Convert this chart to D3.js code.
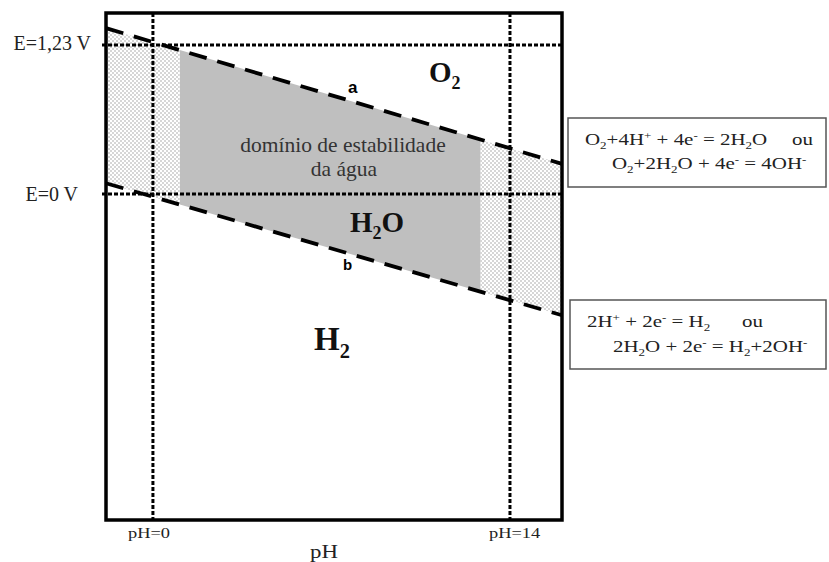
<!DOCTYPE html>
<html>
<head>
<meta charset="utf-8">
<script src="https://cdn.jsdelivr.net/npm/d3@7"></script>
<style>
  body { margin: 0; background: #fff; }
  svg text, svg tspan { font-family: "Liberation Serif", "Times New Roman", serif; }
</style>
</head>
<body>
<div id="chart"></div>
<script>
// pH / potential
const phRange = [-1.84, 16.04];      // pH at the frame edges
const eRange = [-2.69, 1.495];       // E (V) at the frame edges
const refPH = [0, 14];
const refPHLabels = ["pH=0", "pH=14"];
const refE = [1.23, 0];
const refELabels = ["E=1,23 V", "E=0 V"];
const lineA = [[-1.84, 1.37], [16.04, 0.25]];   // O2 / H2O
const lineB = [[-1.84, 0.09], [16.04, -1.0]];   // H2O / H2
const stablePH = [1.05, 12.85];                 // grey part of the band

// reaction boxes: [text, "n" | "sub" | "sup"]
const eqA1 = [["O","n"],["2","sub"],["+4H","n"],["+","sup"],[" + 4e","n"],["-","sup"],[" = 2H","n"],["2","sub"],["O","n"]];
const eqA2 = [["O","n"],["2","sub"],["+2H","n"],["2","sub"],["O + 4e","n"],["-","sup"],[" = 4OH","n"],["-","sup"]];
const eqB1 = [["2H","n"],["+","sup"],[" + 2e","n"],["-","sup"],[" = H","n"],["2","sub"]];
const eqB2 = [["2H","n"],["2","sub"],["O + 2e","n"],["-","sup"],[" = H","n"],["2","sub"],["+2OH","n"],["-","sup"]];

const serif = "'Liberation Serif', 'Times New Roman', serif";
const sans = "'Liberation Sans', Arial, sans-serif";

let W = 829, H = 562,
    frame = {left: 106, right: 562, top: 13, bottom: 520};

let svg = d3.select("#chart")
    .append("svg")
    .attr("width", W)
    .attr("height", H);

let x = d3.scaleLinear().domain(phRange).range([frame.left, frame.right]);
let y = d3.scaleLinear().domain(eRange).range([frame.bottom, frame.top]);

let defs = svg.append("defs");
let pat = defs.append("pattern")
    .attr("id", "dots")
    .attr("width", 4).attr("height", 4)
    .attr("patternUnits", "userSpaceOnUse");
pat.append("rect").attr("width", 4).attr("height", 4).attr("fill", "#fff");
pat.selectAll("circle")
    .data([[1, 1], [3, 3]])
    .enter().append("circle")
    .attr("cx", d => d[0]).attr("cy", d => d[1])
    .attr("r", 0.75).attr("fill", "#9a9a9a");

// clip the band into grey middle and dotted sides
defs.append("clipPath").attr("id", "clipGrey")
    .append("rect")
    .attr("x", x(stablePH[0])).attr("y", frame.top)
    .attr("width", x(stablePH[1]) - x(stablePH[0]))
    .attr("height", frame.bottom - frame.top);
let clipDots = defs.append("clipPath").attr("id", "clipDots");
clipDots.append("rect")
    .attr("x", frame.left).attr("y", frame.top)
    .attr("width", x(stablePH[0]) - frame.left)
    .attr("height", frame.bottom - frame.top);
clipDots.append("rect")
    .attr("x", x(stablePH[1])).attr("y", frame.top)
    .attr("width", frame.right - x(stablePH[1]))
    .attr("height", frame.bottom - frame.top);

let band = phRange.map((p, i) => ({pH: p, top: lineA[i][1], bot: lineB[i][1]}));
let area = d3.area()
    .x(d => x(d.pH))
    .y0(d => y(d.bot))
    .y1(d => y(d.top));

svg.append("path")
    .datum(band)
    .attr("d", area)
    .attr("fill", "#bfbfbf")
    .attr("clip-path", "url(#clipGrey)");
svg.append("path")
    .datum(band)
    .attr("d", area)
    .attr("fill", "url(#dots)")
    .attr("clip-path", "url(#clipDots)");

// dotted reference lines
svg.append("g")
    .selectAll("line")
    .data(refE)
    .enter().append("line")
    .attr("x1", frame.left - 4).attr("x2", frame.right)
    .attr("y1", d => y(d)).attr("y2", d => y(d))
    .attr("stroke", "#000").attr("stroke-width", 3)
    .attr("stroke-dasharray", "4,2");
svg.append("g")
    .selectAll("line")
    .data(refPH)
    .enter().append("line")
    .attr("x1", d => x(d)).attr("x2", d => x(d))
    .attr("y1", frame.top).attr("y2", frame.bottom)
    .attr("stroke", "#000").attr("stroke-width", 3)
    .attr("stroke-dasharray", "4,2");

// dashed water lines a and b
let line = d3.line().x(d => x(d[0])).y(d => y(d[1]));
svg.append("g")
    .selectAll("path")
    .data([lineA, lineB])
    .enter().append("path")
    .attr("d", line)
    .attr("fill", "none")
    .attr("stroke", "#000").attr("stroke-width", 3.8)
    .attr("stroke-dasharray", "18,11");

// frame
svg.append("rect")
    .attr("x", frame.left).attr("y", frame.top)
    .attr("width", frame.right - frame.left)
    .attr("height", frame.bottom - frame.top)
    .attr("fill", "none")
    .attr("stroke", "#000").attr("stroke-width", 3.5);

// reference labels
svg.append("text").attr("x", 91).attr("y", y(refE[0]) + 5)
    .style("font-family", serif)
    .attr("text-anchor", "end").attr("font-size", 20).attr("fill", "#222")
    .text(refELabels[0]);
svg.append("text").attr("x", 78).attr("y", y(refE[1]) + 7)
    .style("font-family", serif)
    .attr("text-anchor", "end").attr("font-size", 20).attr("fill", "#222")
    .text(refELabels[1]);

refPH.forEach(function(p, i) {
    svg.append("text")
        .attr("transform", `translate(${x(p) - 25 + i * 4},538) scale(1.27,1)`)
        .style("font-family", serif)
        .attr("font-size", 14.5).attr("fill", "#222")
        .text(refPHLabels[i]);
});
svg.append("text")
    .attr("transform", "translate(310,558) scale(1.27,1)")
    .style("font-family", serif)
    .attr("font-size", 18).attr("fill", "#222")
    .text("pH");

// region labels
function chem(sel, parts, size) {
    let shift = 0;
    sel.style("font-family", serif);
    parts.forEach(function(p) {
        let target = p[1] === "sub" ? size * 0.25 : p[1] === "sup" ? -size * 0.38 : 0;
        sel.append("tspan")
            .attr("dy", target - shift)
            .attr("font-size", p[1] === "n" ? size : size * 0.62)
            .text(p[0]);
        shift = target;
    });
}

let o2 = svg.append("text").attr("x", 429).attr("y", 82)
    .attr("font-weight", "bold").attr("fill", "#111");
chem(o2, [["O","n"],["2","sub"]], 29);

let h2o = svg.append("text").attr("x", 350).attr("y", 232)
    .attr("font-weight", "bold").attr("fill", "#111");
chem(h2o, [["H","n"],["2","sub"],["O","n"]], 29);

let h2 = svg.append("text").attr("x", 314).attr("y", 350)
    .attr("font-weight", "bold").attr("fill", "#111");
chem(h2, [["H","n"],["2","sub"]], 33);

svg.append("text").attr("x", 343).attr("y", 152)
    .style("font-family", serif)
    .attr("text-anchor", "middle").attr("font-size", 21.5).attr("fill", "#333")
    .text("domínio de estabilidade");
svg.append("text").attr("x", 344).attr("y", 176)
    .style("font-family", serif)
    .attr("text-anchor", "middle").attr("font-size", 21.5).attr("fill", "#333")
    .text("da água");

svg.append("text").attr("x", 348).attr("y", 93)
    .style("font-family", sans)
    .attr("font-weight", "bold").attr("font-size", 17)
    .text("a");
svg.append("text").attr("x", 343).attr("y", 270)
    .style("font-family", sans)
    .attr("font-weight", "bold").attr("font-size", 15)
    .text("b");

// reaction boxes
let boxes = [
    {x: 568, y: 118, w: 258, h: 69, lines: [eqA1, eqA2], pos: [[585, 145], [612, 169]], ou: 792},
    {x: 570, y: 300, w: 256, h: 69, lines: [eqB1, eqB2], pos: [[587, 327], [613, 352]], ou: 742}
];
boxes.forEach(function(b) {
    svg.append("rect")
        .attr("x", b.x).attr("y", b.y)
        .attr("width", b.w).attr("height", b.h)
        .attr("fill", "#fff")
        .attr("stroke", "#555").attr("stroke-width", 1.5);
    b.lines.forEach(function(parts, i) {
        let t = svg.append("text")
            .attr("transform", `translate(${b.pos[i][0]},${b.pos[i][1]}) scale(1.27,1)`)
            .attr("fill", "#222");
        chem(t, parts, 16.5);
    });
    svg.append("text")
        .attr("transform", `translate(${b.ou},${b.pos[0][1]}) scale(1.27,1)`)
        .style("font-family", serif)
        .attr("font-size", 16.5).attr("fill", "#222")
        .text("ou");
});
</script>
</body>
</html>
